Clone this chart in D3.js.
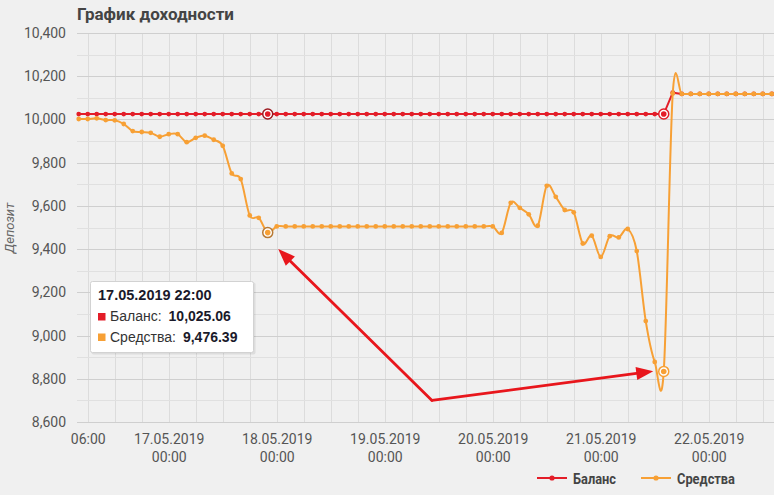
<!DOCTYPE html>
<html><head><meta charset="utf-8">
<script src="https://cdn.jsdelivr.net/npm/d3@7"></script>
<style>
body{margin:0;background:#f0f0f0;}
svg{display:block;font-family:Roboto,"Noto Sans",sans-serif;}
</style>
</head><body>
<svg id="chart" width="774" height="495"></svg>
<script>
// ---------------- DATA ----------------
const chartTitle = "График доходности";
const yAxisTitle = "Депозит";
const seriesNames = ["Баланс", "Средства"];
const seriesStart = "2019-05-16 04:00";   // first point, every 2 hours
const seriesEnd   = "2019-05-22 14:00";   // last point
const balanceValues = [
  10025.06,10025.06,10025.06,10025.06,10025.06,10025.06,10025.06,10025.06,10025.06,10025.06,
  10025.06,10025.06,10025.06,10025.06,10025.06,10025.06,10025.06,10025.06,10025.06,10025.06,10025.06,10025.06,
  10025.06,10025.06,10025.06,10025.06,10025.06,10025.06,10025.06,10025.06,10025.06,10025.06,10025.06,10025.06,
  10025.06,10025.06,10025.06,10025.06,10025.06,10025.06,10025.06,10025.06,10025.06,10025.06,10025.06,10025.06,
  10025.06,10025.06,10025.06,10025.06,10025.06,10025.06,10025.06,10025.06,10025.06,10025.06,10025.06,10025.06,
  10025.06,10025.06,10025.06,10025.06,10025.06,10025.06,10025.06,10025.06,10124,10118,10118,10118,
  10118,10118,10118,10118,10118,10118,10118,10118
];
const equityValues = [
  10002,10002,10005,9997,9996,9979,9946,9942,9938,9920,
  9932,9932,9895,9915,9925,9906,9878,9750,9724,9556,9545,9476.39,
  9505,9505,9505,9505,9505,9505,9505,9505,9505,9505,9505,9505,
  9505,9505,9505,9505,9505,9505,9505,9505,9505,9505,9505,9505,
  9505,9475,9614,9591,9561,9508,9693,9642,9581,9570,9426,9462,
  9364,9460,9454,9493,9391,9067,8878,8834,10120,10118,10118,10118,
  10118,10118,10118,10118,10118,10118,10118,10118
];
const highlightTimes = ["2019-05-17 22:00", "2019-05-21 14:00"];
const tooltipTime = "2019-05-17 22:00";
const yTickValues = [8600, 8800, 9000, 9200, 9400, 9600, 9800, 10000, 10200, 10400];
const yMinorValues = [8700, 8900, 9100, 9300, 9500, 9700, 9900, 10100, 10300];
const xTickLabels = ["06:00", "17.05.2019\n00:00", "18.05.2019\n00:00", "19.05.2019\n00:00",
                     "20.05.2019\n00:00", "21.05.2019\n00:00", "22.05.2019\n00:00"];
const xTickTimes = ["2019-05-16 06:00", "2019-05-17 00:00", "2019-05-18 00:00", "2019-05-19 00:00",
                    "2019-05-20 00:00", "2019-05-21 00:00", "2019-05-22 00:00"];
const xDomain = ["2019-05-16 03:37", "2019-05-22 14:30"];
const yDomain = [8600, 10400];
// annotation arrows: from vertex to two tips (time, value)
const arrowVertex = {t: "2019-05-19 10:30", v: 8700};
const arrowTips = [{t: "2019-05-18 00:20", v: 9400}, {t: "2019-05-21 11:40", v: 8835}];

// ---------------- STYLE ----------------
const colors = {bal: "#e31d28", eq: "#f7a035", grid: "#cfcfcf", minor: "#e0e0e0", vgrid: "#dcdcdc",
                text: "#555", title: "#444", arrow: "#e8161c"};

const parse = d3.utcParse("%Y-%m-%d %H:%M");
const times = d3.utcHour.every(2).range(parse(seriesStart), d3.utcMinute.offset(parse(seriesEnd), 1));
const balData = times.map((t, i) => ({t, v: balanceValues[i]}));
const eqData = times.map((t, i) => ({t, v: equityValues[i]}));

const svg = d3.select("#chart");
const x = d3.scaleUtc().domain(xDomain.map(parse)).range([77, 774]);
const y = d3.scaleLinear().domain(yDomain).range([422, 33]);

// background
svg.append("rect").attr("width", 774).attr("height", 495).attr("fill", "#f0f0f0");

// vertical grid every 6 hours
const vTimes = d3.utcHour.every(6).range(x.domain()[0], x.domain()[1]);
svg.append("g").selectAll("line").data(vTimes).join("line")
  .attr("x1", d => Math.round(x(d)) + 0.5).attr("x2", d => Math.round(x(d)) + 0.5)
  .attr("y1", y(yDomain[1])).attr("y2", y(yDomain[0]))
  .attr("stroke", colors.vgrid).attr("stroke-width", 1);

// minor horizontal grid
svg.append("g").selectAll("line").data(yMinorValues).join("line")
  .attr("x1", 77).attr("x2", 774)
  .attr("y1", d => Math.round(y(d)) + 0.5).attr("y2", d => Math.round(y(d)) + 0.5)
  .attr("stroke", colors.minor);

// major horizontal grid + y axis labels
const yAxis = d3.axisLeft(y).tickValues(yTickValues).tickFormat(d3.format(",")).tickSize(0).tickPadding(11);
const yg = svg.append("g").attr("transform", "translate(77,0)").call(yAxis);
yg.select(".domain").remove();
yg.selectAll("text").attr("fill", colors.text).style("font-size", "14px").style("font-family", "Roboto");
svg.append("g").selectAll("line").data(yTickValues).join("line")
  .attr("x1", 77).attr("x2", 774)
  .attr("y1", d => Math.round(y(d)) + 0.5).attr("y2", d => Math.round(y(d)) + 0.5)
  .attr("stroke", colors.grid);

// x axis
const labelMap = new Map(xTickTimes.map((s, i) => [+parse(s), xTickLabels[i]]));
const xAxis = d3.axisBottom(x).tickValues(xTickTimes.map(parse)).tickSize(0).tickPadding(0)
  .tickFormat(d => labelMap.get(+d));
const xg = svg.append("g").attr("transform", "translate(0,422)").call(xAxis);
xg.select(".domain").remove();
xg.selectAll(".tick text").each(function(d) {
  const lines = labelMap.get(+d).split("\n");
  const t = d3.select(this).text(null).attr("y", 0).attr("dy", null)
    .attr("fill", colors.text).style("font-size", "14px").style("font-family", "Roboto");
  lines.forEach((l, i) => t.append("tspan").attr("x", 0).attr("y", 22 + i * 17.5).text(l));
});

// title
svg.append("text").attr("x", 77).attr("y", 20).text(chartTitle)
  .attr("fill", colors.title).style("font-weight", "bold").style("font-size", "17px")
  .attr("textLength", 157).attr("lengthAdjust", "spacingAndGlyphs");

// y title
svg.append("text").attr("transform", "translate(14,228) rotate(-90)").attr("text-anchor", "middle")
  .text(yAxisTitle).attr("fill", "#666").style("font-style", "italic").style("font-size", "13px");

// series
const line = d3.line().x(d => x(d.t)).y(d => y(d.v));
svg.append("path").datum(balData).attr("d", line.curve(d3.curveLinear))
  .attr("fill", "none").attr("stroke", colors.bal).attr("stroke-width", 2);
svg.append("g").selectAll("circle").data(balData).join("circle")
  .attr("cx", d => x(d.t)).attr("cy", d => y(d.v)).attr("r", 2.4).attr("fill", colors.bal);

svg.append("path").datum(eqData).attr("d", line.curve(d3.curveCardinal.tension(0)))
  .attr("fill", "none").attr("stroke", colors.eq).attr("stroke-width", 2);
svg.append("g").selectAll("circle").data(eqData).join("circle")
  .attr("cx", d => x(d.t)).attr("cy", d => y(d.v)).attr("r", 2.4).attr("fill", colors.eq);

// highlighted points
const ringColors = [["#9c1a20", "#b87a35"], [colors.bal, colors.eq]];
highlightTimes.forEach((s, k) => {
  const i = times.findIndex(t => +t === +parse(s));
  [[balData[i], colors.bal, ringColors[k][0]], [eqData[i], colors.eq, ringColors[k][1]]].forEach(([d, c, rc]) => {
    svg.append("circle").attr("cx", x(d.t)).attr("cy", y(d.v)).attr("r", 5)
      .attr("fill", "#fff").attr("stroke", rc).attr("stroke-width", 1.5);
    svg.append("circle").attr("cx", x(d.t)).attr("cy", y(d.v)).attr("r", 2.8).attr("fill", c);
  });
});

// arrows
const vx = x(parse(arrowVertex.t)), vy = y(arrowVertex.v);
arrowTips.forEach(tp => {
  const tx = x(parse(tp.t)), ty = y(tp.v);
  const ang = Math.atan2(ty - vy, tx - vx);
  const L = 17, W = 6.5;
  const bx = tx - L * Math.cos(ang), by = ty - L * Math.sin(ang);
  svg.append("line").attr("x1", vx).attr("y1", vy).attr("x2", bx + 2 * Math.cos(ang)).attr("y2", by + 2 * Math.sin(ang))
    .attr("stroke", colors.arrow).attr("stroke-width", 2.8).attr("stroke-linecap", "round");
  svg.append("path").attr("d", d3.line()([
      [tx, ty],
      [bx + W * Math.sin(ang), by - W * Math.cos(ang)],
      [bx - W * Math.sin(ang), by + W * Math.cos(ang)]]) + "Z")
    .attr("fill", colors.arrow);
});

// tooltip
const ti = times.findIndex(t => +t === +parse(tooltipTime));
const tip = svg.append("g").attr("transform", "translate(90,281)");
tip.append("rect").attr("x", 1.5).attr("y", 1.5).attr("width", 164).attr("height", 72)
  .attr("fill", "rgba(0,0,0,0.08)").attr("rx", 2);
tip.append("rect").attr("x", 0.5).attr("y", 0.5).attr("width", 163).attr("height", 71)
  .attr("fill", "#fff").attr("stroke", "#d2d2d2").attr("rx", 2);
const tf = "'Liberation Sans', Arial, sans-serif";
tip.append("text").attr("x", 8).attr("y", 19).text(d3.utcFormat("%d.%m.%Y %H:%M")(times[ti]))
  .style("font-family", tf).style("font-weight", "bold").style("font-size", "14.5px").attr("fill", "#1a1a2a");
[[seriesNames[0], balanceValues[ti], colors.bal], [seriesNames[1], equityValues[ti], colors.eq]].forEach(([n, v, c], k) => {
  const yy = 40 + k * 20.5;
  tip.append("rect").attr("x", 8).attr("y", yy - 8).attr("width", 7.5).attr("height", 7.5).attr("fill", c);
  const t = tip.append("text").attr("x", 20).attr("y", yy).style("font-family", tf)
    .style("font-size", "14px").attr("fill", "#333");
  t.append("tspan").text(n + ":");
  t.append("tspan").attr("dx", 7).text(d3.format(",.2f")(v)).style("font-weight", "bold").attr("fill", "#1a1a2a");
});

// legend
const legendItems = [{name: seriesNames[0], c: colors.bal, x: 537, w: 43}, {name: seriesNames[1], c: colors.eq, x: 641, w: 58}];
legendItems.forEach(it => {
  const g = svg.append("g").attr("transform", `translate(${it.x},478)`);
  g.append("line").attr("x1", 0).attr("x2", 30).attr("y1", 0).attr("y2", 0).attr("stroke", it.c).attr("stroke-width", 2);
  g.append("circle").attr("cx", 15).attr("cy", 0).attr("r", 2.6).attr("fill", it.c);
  g.append("text").attr("x", 36).attr("y", 5.5).text(it.name).attr("fill", colors.title)
    .style("font-weight", "bold").style("font-size", "15px")
    .attr("textLength", it.w).attr("lengthAdjust", "spacingAndGlyphs");
});
</script>
</body></html>
